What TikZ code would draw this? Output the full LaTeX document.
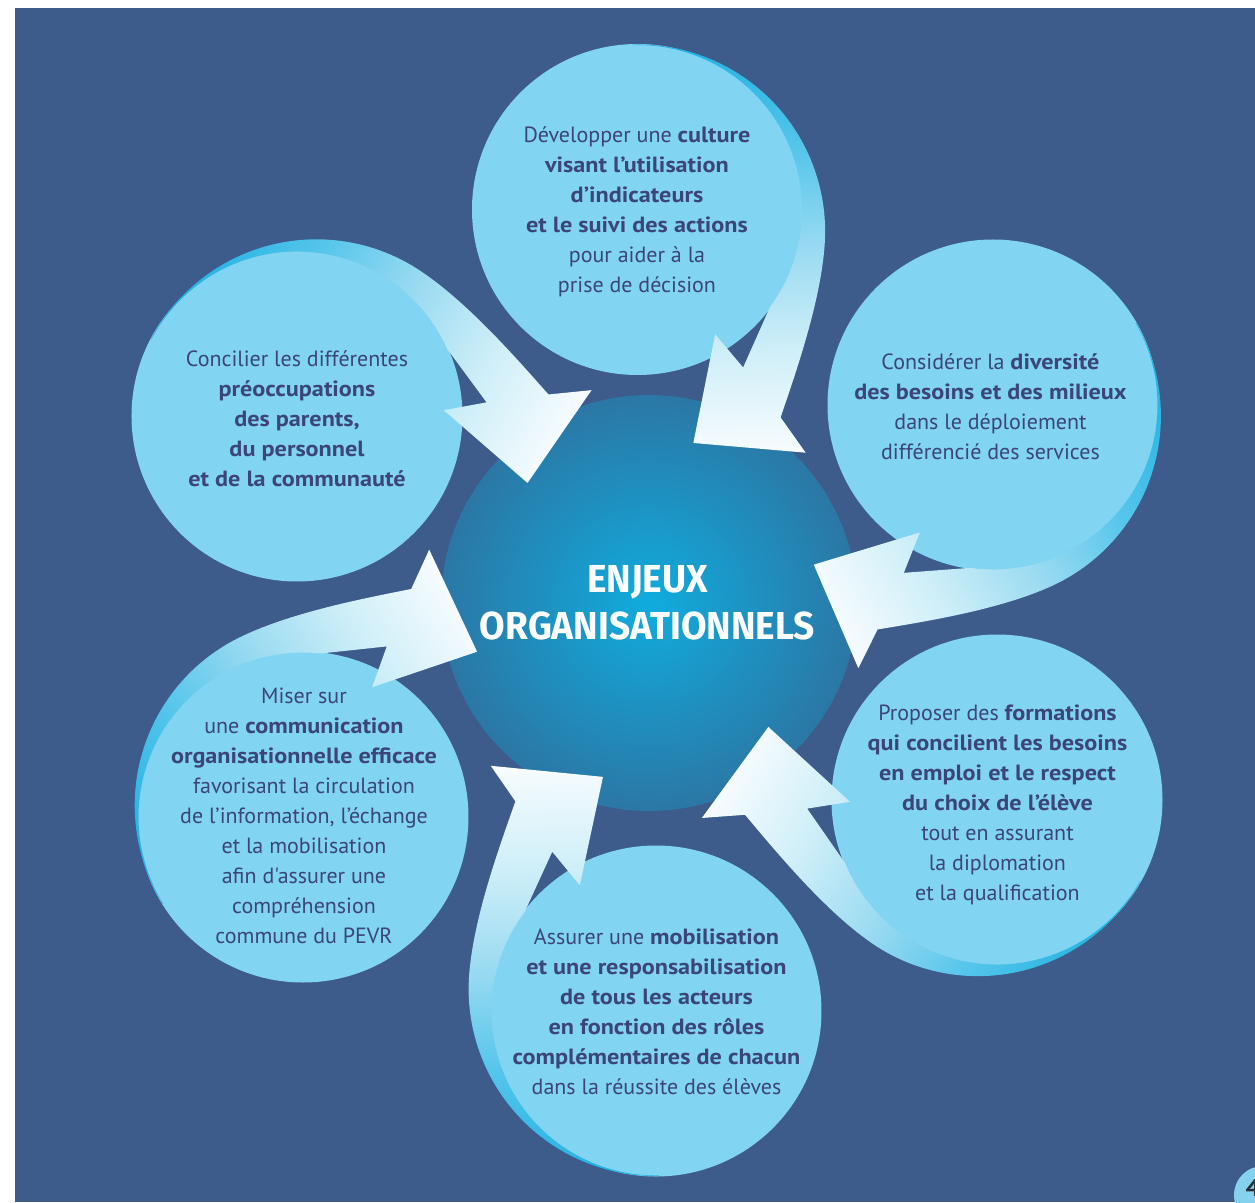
\documentclass[tikz,border=0pt]{standalone}
\usepackage{fontspec}
\setmainfont{PT Sans}[Ligatures=TeXOff, BoldFeatures={FakeStretch=1.10}]
\newfontfamily\titlefont{Fira Sans}[FakeStretch=0.95]

\definecolor{pagebg}{HTML}{3D5B8B}
\definecolor{bubblefill}{HTML}{81D4F2}
\definecolor{inktext}{HTML}{3B4577}
\definecolor{hubin}{HTML}{10ACDE}
\definecolor{hubout}{HTML}{2B77A5}
\definecolor{bandtop}{HTML}{22B2E2}
\definecolor{bandmid}{HTML}{55C5EB}
\definecolor{bandsoft}{HTML}{98DAF1}
\definecolor{bandpale}{HTML}{CDEEF8}
\definecolor{bandlow}{HTML}{F8FCFE}
\definecolor{badgefill}{HTML}{84D2EE}
\definecolor{badgeink}{HTML}{2D2D35}

\pgfdeclareverticalshading{bandshade}{100bp}{color(0bp)=(bandlow); color(25bp)=(bandlow);
  color(38bp)=(bandpale); color(50bp)=(bandsoft); color(62bp)=(bandmid);
  color(75bp)=(bandtop); color(100bp)=(bandtop)}
\pgfdeclareradialshading{hubshade}{\pgfpoint{0bp}{0bp}}{color(0bp)=(hubin);
  color(25bp)=(hubout); color(50bp)=(hubout)}

\tikzset{
  bubble/.style={circle, fill=bubblefill, minimum size=331pt, inner sep=0pt},
  bubbletext/.style={align=center, text=inktext, inner sep=0pt,
    font=\fontsize{22}{30}\selectfont},
  hub/.style={circle, minimum size=416pt, inner sep=0pt, shade, shading=hubshade},
}

\begin{document}
\begin{tikzpicture}[x=1pt, y=1pt]
  \useasboundingbox (-649,603) rectangle (606,-599);
  \fill[white] (-649,603) rectangle (606,-599);
  \fill[pagebg] (-634,595) rectangle (606,-599);

  % page number
  \fill[badgefill] (614,-592) circle[radius=29];
  \node[font=\bfseries\fontsize{24}{24}\selectfont, text=badgeink] (pagenum) at (604,-585) {4};

  % centre
  \node[hub] (hub) at (0,0) {};

  % bubbles
  \node[bubble] (culture) at (-11.5,393.5) {};
  \node[bubble] (diversite) at (344,198) {};
  \node[bubble] (formation) at (348,-197) {};
  \node[bubble] (mobilisation) at (7,-408) {};
  \node[bubble] (communication) at (-346,-214) {};
  \node[bubble] (parents) at (-352,187) {};

  % curved arrows towards the centre
  \foreach \src/\ang in {culture/1.67, diversite/-60.08, formation/-119.51,
      mobilisation/-179.02, communication/-238.26, parents/62.02}{
    \begin{scope}[transform canvas={shift={(\src.center)}, rotate=\ang}]
      \shade[shading=bandshade] (0,165) arc[start angle=90, end angle=-5, radius=187]
        .. controls (181,-98) and (151,-174) .. (137,-212)
        -- (161,-248) -- (49,-235) -- (74,-127) -- (101,-161)
        -- (-38:164.5) arc[start angle=-38, end angle=90, radius=164.5] -- cycle;
    \end{scope}
  }

  % texts
  \node[font=\titlefont\bfseries\fontsize{39}{47}\selectfont, text=white, align=center]
    (title) at (-1.5,0) {ENJEUX\\ORGANISATIONNELS};
  \node[bubbletext] (culturetext) at (-12,391) {Développer une \textbf{culture}\\
    \textbf{visant l’utilisation}\\\textbf{d’indicateurs}\\
    \textbf{et le suivi des actions}\\pour aider à la\\prise de décision};
  \node[bubbletext] (diversitetext) at (341.5,196) {Considérer la \textbf{diversité}\\
    \textbf{des besoins et des milieux}\\dans le déploiement\\différencié des services};
  \node[bubbletext] (formationtext) at (348.5,-201.5) {Proposer des \textbf{formations}\\
    \textbf{qui concilient les besoins}\\\textbf{en emploi et le respect}\\
    \textbf{du choix de l’élève}\\tout en assurant\\la diplomation\\et la qualification};
  \node[bubbletext] (mobilisationtext) at (7.5,-408.5) {Assurer une \textbf{mobilisation}\\
    \textbf{et une responsabilisation}\\\textbf{de tous les acteurs}\\
    \textbf{en fonction des rôles}\\\textbf{complémentaires de chacun}\\
    dans la réussite des élèves};
  \node[bubbletext] (communicationtext) at (-345,-212.5) {Miser sur\\
    une \textbf{communication}\\\textbf{organisationnelle efficace}\\
    favorisant la circulation\\de l’information, l’échange\\et la mobilisation\\
    afin d'assurer une\\compréhension\\commune du PEVR};
  \node[bubbletext] (parentstext) at (-352,184.5) {Concilier les différentes\\
    \textbf{préoccupations}\\\textbf{des parents,}\\\textbf{du personnel}\\
    \textbf{et de la communauté}};
\end{tikzpicture}
\end{document}
